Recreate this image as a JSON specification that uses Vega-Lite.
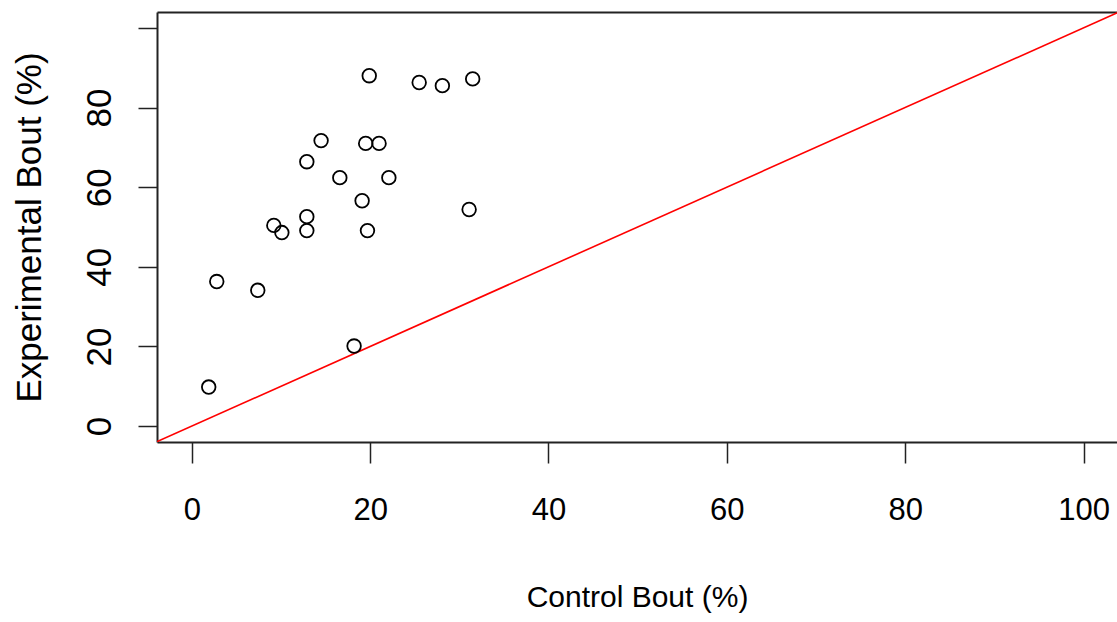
{
  "$schema": "https://vega.github.io/schema/vega-lite/v6.json",
  "autosize": "none",
  "width": 960,
  "height": 430,
  "padding": {"left": 157, "top": 12, "right": 0, "bottom": 180},
  "background": "white",
  "config": {
    "view": {"stroke": null},
    "axis": {"grid": false, "labelColor": "#000", "titleColor": "#000", "domainColor": "#222", "tickColor": "#222", "domainWidth": 2, "tickWidth": 1.5, "labelOverlap": false, "labelFlush": false, "titleFontWeight": "normal"}
  },
  "datasets": {
    "bouts": [
      {"control": 1.9, "experimental": 9.8},
      {"control": 2.8, "experimental": 36.3},
      {"control": 7.4, "experimental": 34.1},
      {"control": 9.2, "experimental": 50.4},
      {"control": 10.1, "experimental": 48.6},
      {"control": 12.9, "experimental": 66.4},
      {"control": 12.9, "experimental": 52.6},
      {"control": 12.9, "experimental": 49.1},
      {"control": 14.5, "experimental": 71.7},
      {"control": 16.6, "experimental": 62.4},
      {"control": 18.2, "experimental": 20.1},
      {"control": 19.1, "experimental": 56.6},
      {"control": 19.5, "experimental": 71.0},
      {"control": 19.7, "experimental": 49.1},
      {"control": 19.9, "experimental": 88.0},
      {"control": 21.0, "experimental": 71.0},
      {"control": 22.1, "experimental": 62.4},
      {"control": 25.5, "experimental": 86.3},
      {"control": 28.1, "experimental": 85.5},
      {"control": 31.1, "experimental": 54.4},
      {"control": 31.5, "experimental": 87.2}
    ],
    "identity": [
      {"control": -4, "experimental": -4},
      {"control": 104, "experimental": 104}
    ]
  },
  "layer": [
    {
      "data": {"name": "identity"},
      "mark": {"type": "line", "color": "#ff0000", "strokeWidth": 1.6, "clip": true},
      "encoding": {
        "x": {"field": "control", "type": "quantitative", "scale": {"domain": [-3.9, 103.75], "nice": false, "zero": false},
              "axis": {"orient": "top", "title": null, "labels": false, "ticks": false, "domain": true}},
        "y": {"field": "experimental", "type": "quantitative", "scale": {"domain": [-4, 104], "nice": false, "zero": false},
              "axis": {"orient": "left", "title": "Experimental Bout (%)", "values": [0, 20, 40, 60, 80, 100],
                       "labelExpr": "datum.value == 100 ? '' : datum.label",
                       "labelFont": "Liberation Sans", "labelFontSize": 35, "labelAngle": 270, "labelAlign": "center", "labelBaseline": "alphabetic",
                       "labelPadding": 28, "tickSize": 19,
                       "titleFont": "Liberation Sans", "titleFontSize": 35, "titleAngle": 270, "titleBaseline": "alphabetic", "titlePadding": 42}}
      }
    },
    {
      "data": {"name": "bouts"},
      "mark": {"type": "point", "shape": "circle", "filled": false, "stroke": "#000", "strokeWidth": 1.8, "size": 185, "opacity": 1},
      "encoding": {
        "x": {"field": "control", "type": "quantitative", "scale": {"domain": [-3.9, 103.75], "nice": false, "zero": false},
              "axis": {"orient": "bottom", "title": "Control Bout (%)", "values": [0, 20, 40, 60, 80, 100],
                       "labelFont": "Liberation Sans", "labelFontSize": 31, "labelPadding": 32, "tickSize": 21,
                       "titleFont": "Liberation Sans", "titleFontSize": 30, "titlePadding": 57}},
        "y": {"field": "experimental", "type": "quantitative", "scale": {"domain": [-4, 104], "nice": false, "zero": false},
              "axis": {"orient": "left", "title": "Experimental Bout (%)", "values": [0, 20, 40, 60, 80, 100],
                       "labelExpr": "datum.value == 100 ? '' : datum.label",
                       "labelFont": "Liberation Sans", "labelFontSize": 35, "labelAngle": 270, "labelAlign": "center", "labelBaseline": "alphabetic",
                       "labelPadding": 28, "tickSize": 19,
                       "titleFont": "Liberation Sans", "titleFontSize": 35, "titleAngle": 270, "titleBaseline": "alphabetic", "titlePadding": 42}}
      }
    }
  ],
  "resolve": {"axis": {"x": "independent"}}
}
